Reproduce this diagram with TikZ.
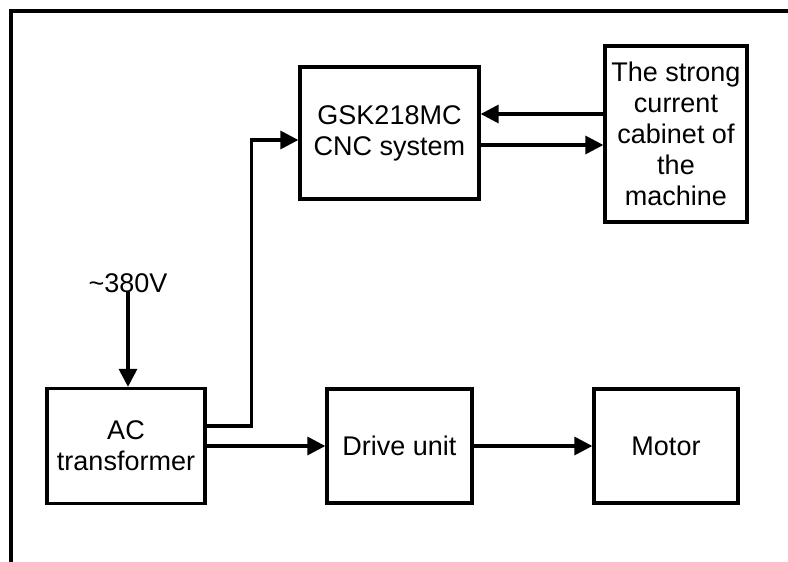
\documentclass[tikz,border=0pt]{standalone}
\usepackage{fontspec}
\setmainfont{Liberation Sans}
\usetikzlibrary{arrows.meta}
\begin{document}
\begin{tikzpicture}[x=1pt,y=-1pt,
  blk/.style={draw,line width=3.3pt,minimum width=#1,inner sep=0pt,align=center,font=\fontsize{27}{31}\selectfont},
  arr/.style={line width=3.3pt,-{Triangle[length=18pt,width=18pt]}},
  ln/.style={line width=3.3pt}]
\useasboundingbox (0,0) rectangle (788,562);
\draw[ln,line join=miter] (800,11) -- (11,11) -- (11,575);
\node[blk=179pt,minimum height=132pt] (GSK) at (389.5,133) {GSK218MC\\CNC system};
\node[blk=142pt,minimum height=176pt] (Strong) at (676,134) {The strong\\current\\cabinet of\\the\\machine};
\node[blk=158pt,minimum height=115pt] (AC) at (126,446) {AC\\transformer};
\node[blk=145pt,minimum height=114pt] (Drive) at (399.5,446) {Drive unit};
\node[blk=144pt,minimum height=114pt] (Motor) at (666,446) {Motor};
\node[font=\fontsize{27}{31}\selectfont,inner sep=0pt,anchor=base] (V) at (128,292) {\textasciitilde380V};
\coordinate (s1) at ([yshift=20pt]Strong.west);
\coordinate (g1) at ([yshift=-12pt]GSK.east);
\draw[arr] (V.base) -- (V.base |- AC.north);
\draw[arr] ([yshift=20pt]AC.east) -- ++(45,0) |- ([yshift=-7pt]GSK.west);
\draw[arr] (AC.east) -- (Drive.west);
\draw[arr] (Drive.east) -- (Motor.west);
\draw[arr] (s1) -- (s1 -| GSK.east);
\draw[arr] (g1) -- (g1 -| Strong.west);
\end{tikzpicture}
\end{document}
